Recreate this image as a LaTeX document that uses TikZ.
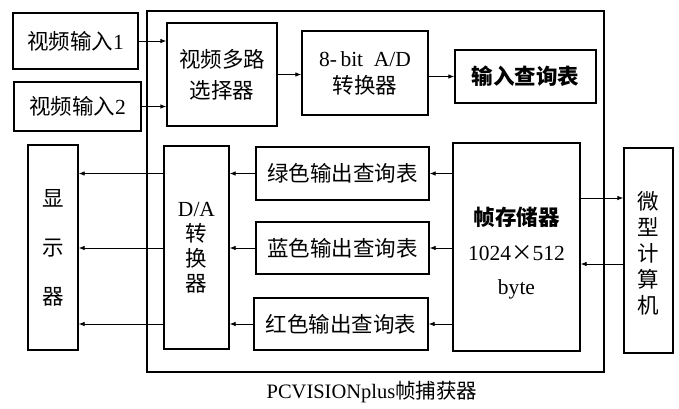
\documentclass[tikz,border=0pt]{standalone}
\usepackage{fontspec}
\setmainfont{Liberation Serif}
\newfontfamily\cjk{Noto Sans CJK SC}
\usetikzlibrary{arrows.meta,calc}
\tikzset{
  box/.style={draw, line width=1.3pt, inner sep=0pt, align=center,
    font=\fontsize{21.5}{26}\selectfont},
  txt/.style={inner sep=0pt, align=center, font=\fontsize{21.5}{26}\selectfont},
  arr/.style={-{Latex[length=6pt,width=4.5pt]}, line width=0.8pt},
}
\begin{document}
\begin{tikzpicture}[x=1pt,y=-1pt]
\useasboundingbox (0,0) rectangle (679,408);
\node[box, minimum width=457pt, minimum height=361pt] (frame) at (375.5,191.5) {};
\node[box, minimum width=125pt, minimum height=56pt] (in1) at (75.5,41) {{\cjk 视频输入}1};
\node[box, minimum width=127pt, minimum height=49pt] (in2) at (77.5,106.5) {{\cjk 视频输入}2};
\node[box, minimum width=110pt, minimum height=103pt] (mux) at (222,74.5) {\cjk 视频多路\\[5pt]\cjk 选择器};
\node[box, minimum width=126pt, minimum height=84pt] (ad) at (365,73) {8-\,bit\ \ A/D\\[1pt]\cjk 转换器};
\node[box, minimum width=141pt, minimum height=53pt] (itbl) at (525.5,76.5) {\cjk\bfseries 输入查询表};
\node[box, minimum width=50pt, minimum height=205pt] (disp) at (53,247.5) {\cjk 显\\[23pt]\cjk 示\\[23pt]\cjk 器};
\node[box, minimum width=65pt, minimum height=203pt, font=\fontsize{21.5}{25}\selectfont] (da) at (196.5,247.5) {D/A\\\cjk 转\\\cjk 换\\\cjk 器};
\node[box, minimum width=173pt, minimum height=53pt] (green) at (342.5,173.5) {\cjk 绿色输出查询表};
\node[box, minimum width=173pt, minimum height=52pt] (blue) at (342.5,248) {\cjk 蓝色输出查询表};
\node[box, minimum width=174pt, minimum height=52pt] (red) at (341,324) {\cjk 红色输出查询表};
\node[box, minimum width=127pt, minimum height=208pt] (fs) at (516.5,247) {};
\node[txt] (fstext) at (516.5,253) {{\cjk\bfseries 帧存储器}\\[9pt]1024{\cjk ×}512\\[8pt]byte};
\node[box, minimum width=49pt, minimum height=205pt] (pc) at (648.5,250.5) {};
\node[txt] (pctext) at (648.5,253) {\cjk 微\\\cjk 型\\\cjk 计\\\cjk 算\\\cjk 机};
\node[font=\fontsize{20.5}{24}\selectfont] (cap) at (372,392) {PCVISIONplus{\cjk 帧捕获器}};
% input arrows
\draw[arr] (in1.east) -- (mux.west |- in1.east);
\draw[arr] (in2.east) -- (mux.west |- in2.east);
\draw[arr] (mux.east) -- (ad.west |- mux.east);
\draw[arr] (ad.east |- itbl.west) -- (itbl.west);
% frame store to tables
\draw[arr] (fs.west |- green.east) -- (green.east);
\draw[arr] (fs.west |- blue.east) -- (blue.east);
\draw[arr] (fs.west |- red.east) -- (red.east);
% tables to D/A
\draw[arr] (green.west) -- (da.east |- green.west);
\draw[arr] (blue.west) -- (da.east |- blue.west);
\draw[arr] (red.west) -- (da.east |- red.west);
% D/A to display
\draw[arr] (da.west |- green.west) -- (disp.east |- green.west);
\draw[arr] (da.west |- blue.west) -- (disp.east |- blue.west);
\draw[arr] (da.west |- red.west) -- (disp.east |- red.west);
% frame store <-> computer
\draw[arr] ([yshift=49pt]fs.east) -- ([yshift=49pt]fs.east -| pc.west);
\draw[arr] ([yshift=-17pt]fs.east -| pc.west) -- ([yshift=-17pt]fs.east);
\end{tikzpicture}
\end{document}
